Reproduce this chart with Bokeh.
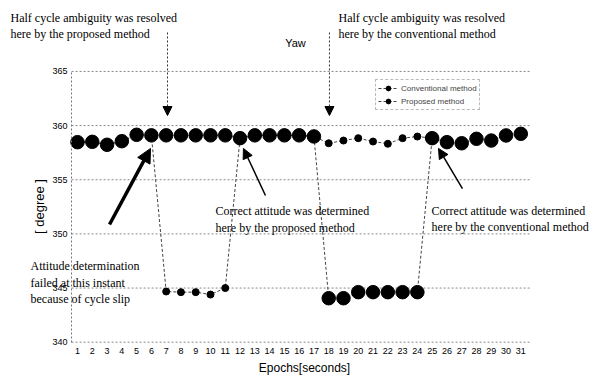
import math
from bokeh.plotting import figure
from bokeh.models import Range1d, FixedTicker, Arrow, NormalHead, Legend, LegendItem
from bokeh.core.properties import value
from bokeh.embed import file_html
from bokeh.resources import INLINE

# ---- data ----
epochs = list(range(1, 32))
conventional = [358.47, 358.5, 358.23, 358.56, 359.15, 359.1,
                344.68, 344.62, 344.62, 344.40, 345.0,
                358.84, 359.1, 359.1, 359.1, 359.1, 359.0,
                358.37, 358.62, 358.84, 358.53, 358.32, 358.84, 358.99,
                358.84, 358.47, 358.37, 358.78, 358.62, 359.09, 359.24]
proposed = [358.47, 358.5, 358.23, 358.56, 359.15, 359.1,
            359.1, 359.1, 359.1, 359.1, 359.1,
            358.84, 359.1, 359.1, 359.1, 359.1, 359.0,
            344.06, 344.06, 344.62, 344.62, 344.62, 344.62, 344.62,
            358.84, 358.47, 358.37, 358.78, 358.62, 359.09, 359.24]
y_ticks = [340, 345, 350, 355, 360, 365]
x_ticks = epochs
series_names = ["Conventional method", "Proposed method"]
title_text = "Yaw"
x_label = "Epochs[seconds]"
y_label = "[ degree ]"

note_x = [-3.534, -3.534, 18.66, 18.66, 10.34, 10.34, 24.96, 24.96, -2.181, -2.181, -2.181]
note_y = [369.89, 368.50, 369.89, 368.50, 352.07, 350.59, 352.16, 350.68, 347.08, 345.51, 344.03]
note_text = ["Half cycle ambiguity was resolved", "here by the proposed method",
             "Half cycle ambiguity was resolved", "here by the conventional method",
             "Correct attitude was determined", "here by the proposed method",
             "Correct attitude was determined", "here by the conventional method",
             "Attitude determination", "failed at this instant", "because of cycle slip"]

# arrows: (x_start, y_start, x_end, y_end)
dashed_arrows = [(7.09, 368.60, 7.09, 360.93), (18.05, 368.60, 18.05, 360.93)]
bold_arrow = (3.166, 350.87, 5.94, 357.89)
thin_arrows = [(13.72, 353.55, 12.23, 357.89), (27.05, 354.19, 25.43, 357.89)]

grid_x0, grid_x1 = 0.6, 31.6

p = figure(width=593, height=378,
           x_range=Range1d(-4.211, 35.919), y_range=Range1d(336.648, 371.551),
           output_backend="svg", toolbar_location=None, title=None, min_border=0)
p.outline_line_color = None
p.background_fill_color = "white"
p.border_fill_color = "white"
p.xgrid.visible = False
p.ygrid.visible = False

# axes drawn at fixed locations
p.xaxis.fixed_location = 340
p.yaxis.fixed_location = grid_x0
p.xaxis.ticker = FixedTicker(ticks=x_ticks)
p.yaxis.ticker = FixedTicker(ticks=y_ticks)
for ax in (p.xaxis, p.yaxis):
    ax.major_tick_in = 0
    ax.major_tick_out = 0
    ax.minor_tick_in = 0
    ax.minor_tick_out = 0
    ax.major_label_text_font = "Liberation Sans"
    ax.major_label_text_color = "black"
p.xaxis.axis_line_color = None
p.xaxis.major_label_text_font_size = "9px"
p.xaxis.major_label_standoff = 6
p.yaxis.major_label_text_font_size = "9px"
p.yaxis.major_label_standoff = 4
p.yaxis.axis_line_color = "#777777"
p.yaxis.axis_line_dash = "2 2"
p.yaxis.bounds = (340, 365)

# gridlines
p.segment(x0=[grid_x0] * len(y_ticks), y0=y_ticks, x1=[grid_x1] * len(y_ticks), y1=y_ticks,
          line_color="#888888", line_dash="2 2", line_width=1)

# series
l1 = p.line(epochs, conventional, line_color="#444444", line_width=1, line_dash="3 2")
s1 = p.scatter(epochs, conventional, size=7, color="black")
l2 = p.line(epochs, proposed, line_color="#444444", line_width=1, line_dash="3 2")
s2 = p.scatter(epochs, proposed, size=13.5, color="black")

legend = Legend(items=[LegendItem(label=series_names[0], renderers=[l1, s1]),
                       LegendItem(label=series_names[1], renderers=[l2, s2])],
                location=(375, 268), label_text_font="Liberation Sans",
                label_text_font_size="8px", label_height=12, glyph_height=12,
                glyph_width=20, padding=2, spacing=1, margin=0, label_standoff=3,
                border_line_color="#777777", border_line_dash="2 2",
                background_fill_color="white", background_fill_alpha=1)
p.add_layout(legend)

# annotation texts
p.text(x=note_x, y=note_y, text=note_text, text_font=value("Liberation Serif"),
       text_font_size="12px", text_baseline="middle", text_align="left", text_color="black")

# title and axis labels
p.text(x=[15.75], y=[367.67], text=[title_text], text_font=value("Liberation Sans"),
       text_font_size="11px", text_baseline="middle", text_align="center", text_color="black")
p.text(x=[16.36], y=[337.66], text=[x_label], text_font=value("Liberation Sans"),
       text_font_size="12px", text_baseline="middle", text_align="center", text_color="black")
p.text(x=[-1.572], y=[352.53], text=[y_label], text_font=value("Liberation Sans"),
       text_font_size="13px", text_baseline="middle", text_align="center",
       angle=math.pi / 2, text_color="black")

# arrows
for xs, ys, xe, ye in dashed_arrows:
    p.add_layout(Arrow(end=NormalHead(size=9, fill_color="black", line_color="black"),
                       x_start=xs, y_start=ys, x_end=xe, y_end=ye,
                       line_color="#333333", line_width=1, line_dash="2 2"))
xs, ys, xe, ye = bold_arrow
p.add_layout(Arrow(end=NormalHead(size=14, fill_color="black", line_color="black"),
                   x_start=xs, y_start=ys, x_end=xe, y_end=ye,
                   line_color="black", line_width=3.5))
for xs, ys, xe, ye in thin_arrows:
    p.add_layout(Arrow(end=NormalHead(size=10, fill_color="black", line_color="black"),
                       x_start=xs, y_start=ys, x_end=xe, y_end=ye,
                       line_color="black", line_width=1.5))

open("out.html", "w").write(file_html(p, INLINE))
